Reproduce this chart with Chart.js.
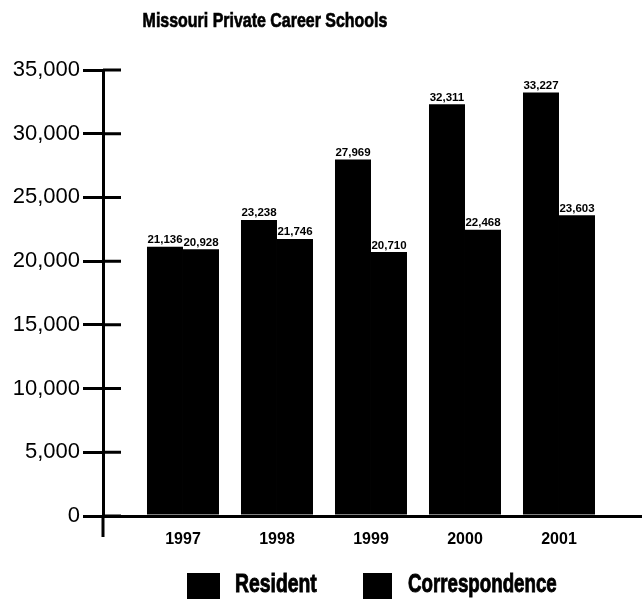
<!DOCTYPE html>
<html>
<head>
<meta charset="utf-8">
<script src="https://cdn.jsdelivr.net/npm/chart.js@4.4.0/dist/chart.umd.min.js"></script>
<style>
  body { margin: 0; background: #fff; }
  #wrap { position: relative; width: 642px; height: 601px; }
  #title {
    position: absolute; left: 0; top: 8px; width: 530px; text-align: center;
    font: bold 21px "Liberation Sans", Arial, sans-serif; color: #000;
    -webkit-text-stroke: 0.7px #000;
    transform: scaleX(0.76); transform-origin: 265px 0;
  }
  .lg {
    position: absolute; font: bold 26px "Liberation Sans", Arial, sans-serif; color: #000;
    -webkit-text-stroke: 0.9px #000;
    white-space: nowrap; transform-origin: 0 0;
  }
  .box { position: absolute; background: #000; }
  canvas { position: absolute; left: 0; top: 0; }
</style>
</head>
<body>
<div id="wrap">
  <canvas id="chart" width="642" height="601"></canvas>
  <div id="title">Missouri Private Career Schools</div>
  <div class="box" style="left:187px; top:573px; width:33px; height:26px;"></div>
  <div class="lg" style="left:235px; top:568px; transform:scaleX(0.745);">Resident</div>
  <div class="box" style="left:363px; top:573px; width:29px; height:26px;"></div>
  <div class="lg" style="left:408px; top:568px; transform:scaleX(0.72);">Correspondence</div>
</div>
<script>
const years = [1997, 1998, 1999, 2000, 2001];
const resident = [21136, 23238, 27969, 32311, 33227];
const correspondence = [20928, 21746, 20710, 22468, 23603];
const yTicks = [0, 5000, 10000, 15000, 20000, 25000, 30000, 35000];

const sans = '"Liberation Sans", Arial, sans-serif';
const ctx = document.getElementById("chart").getContext("2d");

// value labels above each bar
const valueLabels = {
  id: "valueLabels",
  afterDatasetsDraw(chart) {
    const c = chart.ctx;
    c.save();
    c.font = "bold 11.5px " + sans;
    c.fillStyle = "#000";
    c.textAlign = "center";
    c.textBaseline = "bottom";
    chart.data.datasets.forEach((ds, i) => {
      chart.getDatasetMeta(i).data.forEach((bar, j) => {
        c.fillText(ds.data[j].y.toLocaleString("en-US"), bar.x, bar.y - 1);
      });
    });
    c.restore();
  },
};

// tick stubs on the inner side of the y axis and the axis tail below zero
const axisExtras = {
  id: "axisExtras",
  afterDraw(chart) {
    const c = chart.ctx;
    const y = chart.scales.y;
    const left = chart.chartArea.left;
    c.save();
    c.strokeStyle = "#000";
    c.lineWidth = 3;
    c.beginPath();
    yTicks.forEach((v) => {
      const py = y.getPixelForValue(v);
      c.moveTo(left, py);
      c.lineTo(left + 18, py);
    });
    c.moveTo(left, y.getPixelForValue(0));
    c.lineTo(left, y.getPixelForValue(0) + 21);
    c.stroke();
    c.restore();
  },
};

new Chart(ctx, {
  type: "bar",
  data: {
    datasets: [
      {
        label: "Resident",
        data: years.map((yr, i) => ({ x: yr, y: resident[i] })),
        backgroundColor: "#000",
      },
      {
        label: "Correspondence",
        data: years.map((yr, i) => ({ x: yr, y: correspondence[i] })),
        backgroundColor: "#000",
      },
    ],
  },
  options: {
    responsive: false,
    animation: false,
    categoryPercentage: 0.766,
    barPercentage: 1.0,
    layout: { padding: { top: 70, left: 0, right: 0, bottom: 55 } },
    plugins: {
      legend: { display: false },
      title: { display: false },
      tooltip: { enabled: false },
    },
    scales: {
      x: {
        type: "linear",
        offset: false,
        min: 1996.149,
        max: 2001.883,
        afterBuildTicks: (axis) => { axis.ticks = years.map((v) => ({ value: v })); },
        afterFit: (axis) => { axis.height = 30; },
        grid: { display: false, offset: false },
        border: { color: "#000", width: 3 },
        ticks: {
          color: "#000",
          padding: 6,
          font: { family: sans, size: 16, weight: "bold" },
          callback: (v) => String(v),
        },
      },
      y: {
        min: 0,
        max: 35000,
        afterBuildTicks: (axis) => { axis.ticks = yTicks.map((v) => ({ value: v })); },
        afterFit: (axis) => { axis.width = 103; },
        grid: { drawOnChartArea: false, color: "#000", lineWidth: 3, tickLength: 20 },
        border: { color: "#000", width: 3 },
        ticks: {
          color: "#000",
          padding: 3,
          font: { family: sans, size: 22 },
          callback: (v) => v.toLocaleString("en-US"),
        },
      },
    },
  },
  plugins: [valueLabels, axisExtras],
});
</script>
</body>
</html>
